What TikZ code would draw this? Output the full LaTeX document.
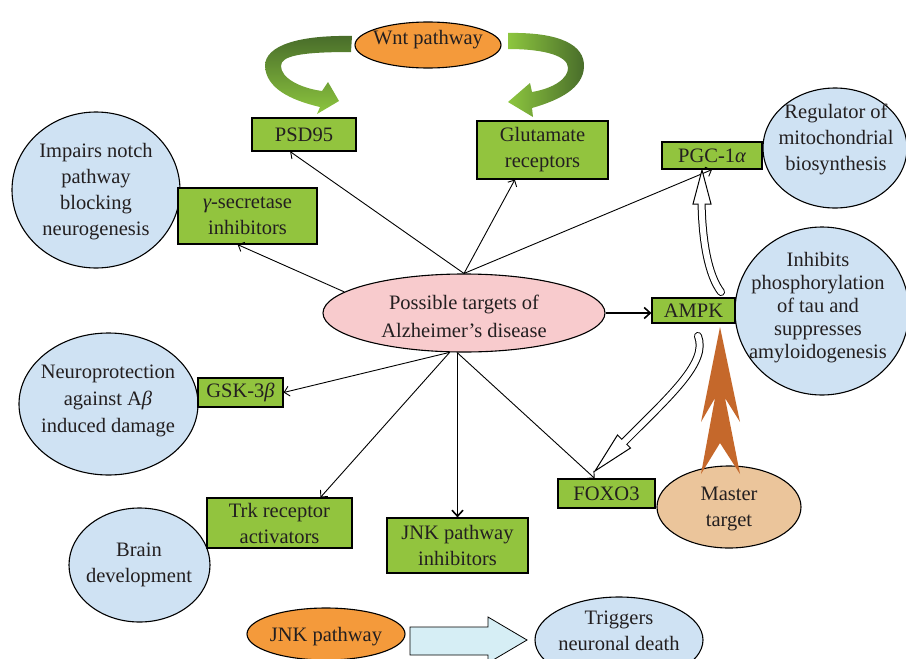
\documentclass[tikz,border=0pt]{standalone}
\usepackage{fontspec}
\setmainfont{Liberation Serif}
\usetikzlibrary{arrows.meta,shapes.geometric,calc}
\definecolor{boxgreen}{RGB}{146,196,62}
\definecolor{bluefill}{RGB}{207,226,243}
\definecolor{pinkfill}{RGB}{248,203,205}
\definecolor{orangefill}{RGB}{244,154,59}
\definecolor{tanfill}{RGB}{235,197,155}
\definecolor{rust}{RGB}{197,104,43}
\definecolor{lightgreen}{RGB}{141,198,63}
\definecolor{darkgreen}{RGB}{72,108,42}
\definecolor{cyanfill}{RGB}{214,238,245}
\definecolor{txt}{RGB}{35,31,32}
\begin{document}
\begin{tikzpicture}[x=1pt,y=-1pt,
  font=\fontsize{20.5}{26}\selectfont, text=txt,
  gbox/.style={draw=black, line width=1.2pt, fill=boxgreen, rectangle, inner sep=0pt, align=center},
  ell/.style={draw=black, line width=1.1pt, ellipse, inner sep=0pt},
  lbl/.style={align=center, inner sep=0pt},
  conn/.style={line width=0.9pt, -{Straight Barb[length=5pt,width=10pt]}},
  thickconn/.style={line width=1.6pt, -{Straight Barb[length=6pt,width=11pt]}}]
\useasboundingbox (0,0) rectangle (906,659);
\clip (0,0) rectangle (906,659);

% ---- ellipses ----
\node[ell, fill=orangefill, minimum width=146pt, minimum height=46pt] (wnt) at (428,45) {};
\node[lbl] at (428,40) {Wnt pathway};

\node[ell, fill=bluefill, minimum width=168pt, minimum height=156pt] (notch) at (96,190) {};
\node[lbl] at (96,192) {Impairs notch\\pathway\\blocking\\neurogenesis};

\node[ell, fill=bluefill, minimum width=144pt, minimum height=120pt] (regul) at (835,148) {};
\node[lbl] at (836,139) {Regulator of\\mitochondrial\\biosynthesis};

\node[ell, fill=bluefill, minimum width=174pt, minimum height=168pt] (inhib) at (822,311) {};
\node[lbl, font=\fontsize{20.5}{23}\selectfont] at (818,308) {Inhibits\\phosphorylation\\of tau and\\suppresses\\amyloidogenesis};

\node[ell, fill=bluefill, minimum width=179pt, minimum height=142pt] (neuro) at (108.5,404) {};
\node[lbl, font=\fontsize{20.5}{27}\selectfont] at (108,401) {Neuroprotection\\against A{\itshape β}\\induced damage};

\node[ell, fill=bluefill, minimum width=141pt, minimum height=114pt] (brain) at (139.5,565) {};
\node[lbl] at (139,565) {Brain\\development};

\node[ell, fill=pinkfill, minimum width=282pt, minimum height=78pt] (cen) at (464,313) {};
\node[lbl, font=\fontsize{20.5}{28}\selectfont] at (464,316) {Possible targets of\\Alzheimer’s disease};

\node[ell, fill=tanfill, minimum width=144pt, minimum height=82pt] (master) at (729,507) {};
\node[lbl] at (729,509) {Master\\target};

\node[ell, fill=orangefill, minimum width=158pt, minimum height=52pt] (jnkp) at (326,634) {};
\node[lbl] at (326,637) {JNK pathway};

\node[ell, fill=bluefill, minimum width=168pt, minimum height=86pt] (death) at (619,640) {};
\node[lbl, font=\fontsize{20.5}{26}\selectfont] at (619,631) {Triggers\\neuronal death};

% ---- boxes ----
\node[gbox, minimum width=104pt, minimum height=33pt] (psd) at (304,134.5) {PSD95};
\node[gbox, minimum width=131pt, minimum height=58pt] (glu) at (542.5,150) {Glutamate\\receptors};
\node[gbox, minimum width=139pt, minimum height=56pt] (gam) at (247.5,216) {{\itshape γ}-secretase\\inhibitors};
\node[gbox, minimum width=100pt, minimum height=27pt] (pgc) at (712,155.5) {PGC-1{\itshape α}};
\node[gbox, minimum width=83pt, minimum height=25pt] (ampk) at (693.5,310.5) {AMPK};
\node[gbox, minimum width=85pt, minimum height=29pt] (gsk) at (240.5,392.5) {GSK-3{\itshape β}};
\node[gbox, minimum width=145pt, minimum height=50pt] (trk) at (279.5,523) {Trk receptor\\activators};
\node[gbox, minimum width=141pt, minimum height=55pt] (jnki) at (457.5,545.5) {JNK pathway\\inhibitors};
\node[gbox, minimum width=97pt, minimum height=29pt] (foxo) at (606.5,493.5) {FOXO3};

% ---- thin connectors ----
\draw[conn] (cen.north) -- (psd.-129);
\draw[conn] (cen.north) -- (glu.-133);
\draw[conn] (cen.north) -- (pgc.south);
\draw[conn] (cen.170) -- (gam.-109);
\draw[conn] (cen.-110) -- (gsk.east);
\draw[conn] (cen.-110) -- (trk.32);
\draw[conn] (cen.-100) -- (foxo.128);
\draw[thickconn] (cen.east) -- (cen.east -| ampk.west);
\draw[thickconn] (cen.south -| jnki.north) -- (jnki.north);

% ---- green ribbon arrows (Wnt) ----
\shade[top color=darkgreen, bottom color=lightgreen]
  (352,36) .. controls (300,35) and (265,45) .. (265,66)
  .. controls (266,88) and (290,100) .. (320,107)
  -- (317,114) -- (339,101) -- (328,82) -- (322,91)
  .. controls (300,88) and (281,78) .. (281,66)
  .. controls (281,56) and (300,52) .. (351,52) -- cycle;
\shade[left color=lightgreen, right color=darkgreen]
  (508,33) .. controls (560,32) and (585,45) .. (584,67)
  .. controls (583,88) and (560,100) .. (532,108)
  -- (533,117) -- (508,102) -- (530,83) -- (532,92)
  .. controls (555,88) and (568,78) .. (568,68)
  .. controls (568,56) and (545,49) .. (508,49) -- cycle;

% ---- hollow arrow AMPK -> PGC-1a ----
\draw[line width=8pt, line cap=round] (721,292) .. controls (708,275) and (702,240) .. (701.5,200);
\filldraw[fill=white, draw=black, line width=1pt] (702,170) -- (711,204) -- (693,204) -- cycle;
\draw[line width=6pt, white, line cap=round] (721,292) .. controls (708,275) and (702,240) .. (701.5,200);

% ---- hollow arrow AMPK -> FOXO3 ----
\draw[line width=8pt, line cap=round] (698,336) .. controls (708,362) and (672,394) .. (624,442);
\filldraw[fill=white, draw=black, line width=1pt] (595,471) -- (617.5,435) -- (630.5,448) -- cycle;
\draw[line width=6pt, white, line cap=round] (698,336) .. controls (708,362) and (672,394) .. (623,443);

% ---- orange double arrow Master target -> AMPK ----
\fill[rust] (720,327) -- (740,422) -- (725,398) -- (740,474) -- (720,443)
  -- (701,474) -- (715,398) -- (701,422) -- cycle;

% ---- block arrow JNK pathway -> neuronal death ----
\filldraw[fill=cyanfill, draw=black, line width=0.8pt]
  (410,627) -- (488,627) -- (488,617) -- (527,640) -- (488,663) -- (488,655) -- (410,655) -- cycle;
\end{tikzpicture}
\end{document}
